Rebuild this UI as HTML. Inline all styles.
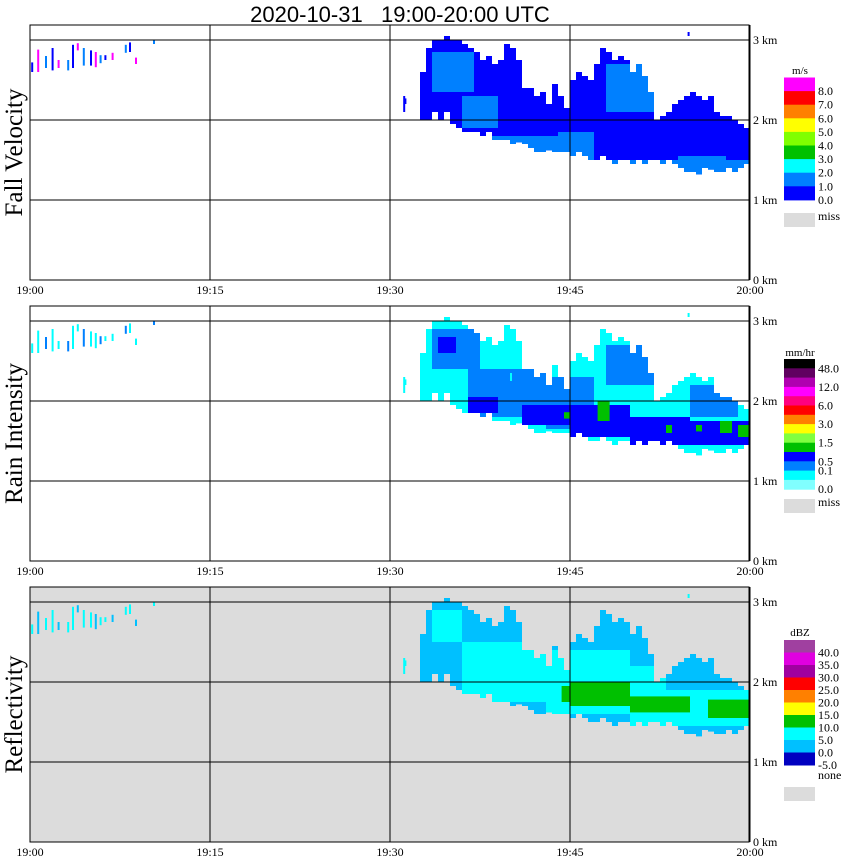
<!DOCTYPE html>
<html><head><meta charset="utf-8">
<style>
html,body{margin:0;padding:0;background:#fff;}
svg{display:block;}
text{font-family:"Liberation Serif",serif;fill:#000;}
</style></head>
<body>
<svg id="chart" width="850" height="868" viewBox="0 0 850 868" xmlns="http://www.w3.org/2000/svg">
<text x="400" y="22" font-size="22" text-anchor="middle" style="font-family:'Liberation Sans',sans-serif;white-space:pre" xml:space="preserve">2020-10-31   19:00-20:00 UTC</text>
</svg>
<script>
// ---- data ----
var binStartMin = 32;          // first echo bin: 19:32
var binMinutes = 0.5;          // 30 s bins
var echoTopKm  = [0,2.6,2.9,3.0,3.0,3.05,3.0,3.0,2.95,2.9,2.85,2.75,2.8,2.7,2.75,2.95,2.9,2.75,2.4,2.4,2.3,2.35,2.2,2.45,2.3,2.15,2.5,2.6,2.55,2.5,2.7,2.9,2.85,2.75,2.8,2.75,2.6,2.7,2.55,2.35,2.0,2.05,2.1,2.2,2.25,2.3,2.35,2.3,2.25,2.3,2.1,2.05,2.05,2.0,1.95,1.9];
var echoBaseKm = [0,2.0,2.0,2.1,2.0,2.1,1.95,1.9,1.85,1.85,1.85,1.8,1.85,1.75,1.75,1.75,1.7,1.72,1.7,1.65,1.6,1.6,1.62,1.6,1.6,1.6,1.55,1.6,1.55,1.5,1.5,1.55,1.5,1.45,1.5,1.5,1.45,1.5,1.45,1.5,1.5,1.45,1.5,1.45,1.4,1.35,1.35,1.32,1.4,1.38,1.35,1.35,1.4,1.35,1.4,1.45];
var clutterMin = [0.1,0.6,1.25,1.8,2.3,3.1,3.5,3.9,4.4,5.0,5.4,5.8,6.2,6.8,7.9,8.25,8.75,10.25];
var clutterLo  = [2.6,2.6,2.65,2.62,2.65,2.62,2.65,2.87,2.68,2.68,2.66,2.71,2.75,2.75,2.84,2.85,2.7,2.95];
var clutterHi  = [2.72,2.88,2.8,2.9,2.75,2.75,2.94,2.96,2.9,2.87,2.85,2.81,2.81,2.84,2.94,2.97,2.78,3.0];
var strayMin = [31.1,31.2,40.0,54.8];
var strayLo  = [2.1,2.2,2.25,3.05];
var strayHi  = [2.3,2.27,2.35,3.1];

var fvPStart=[33.5,36,37,44,48,40,54];
var fvPEnd  =[37,39,44,47,52,60,58];
var fvPLo   =[2.35,1.9,1.6,1.5,2.1,1.3,1.35];
var fvPHi   =[2.85,2.3,1.8,1.85,2.7,1.5,1.55];
var fvPCol  =[1,1,1,1,1,1,1];

var riPStart=[33.5,34,36.5,36.5,43,41,45,50,55,48,55,44.5,47.3,53,57.5,59,55.5];
var riPEnd  =[37.5,35.5,43,39,47,45,50,55,60,52,59,45,48.3,53.5,58.5,60,56];
var riPLo   =[2.4,2.6,1.8,1.85,1.65,1.7,1.55,1.45,1.45,2.2,1.8,1.78,1.75,1.6,1.6,1.55,1.62];
var riPHi   =[2.9,2.8,2.4,2.05,2.3,1.95,1.95,1.8,1.75,2.7,2.2,1.86,2.0,1.7,1.75,1.7,1.7];
var riPCol  =[1,2,1,2,1,2,2,2,2,1,1,3,3,3,3,3,3];

var rfPStart=[33.5,36,43,50,53,44.3,45,50,56.5];
var rfPEnd  =[36,43,50,53,60,45,50,55,60];
var rfPLo   =[2.5,1.75,1.6,1.45,1.45,1.75,1.7,1.62,1.55];
var rfPHi   =[2.9,2.5,2.4,2.2,1.9,1.95,2.0,1.82,1.78];
var rfPCol  =[1,1,1,1,1,2,2,2,2];

var fvColors=['#0000ff','#0080ff'];
var riColors=['#00ffff','#0080ff','#0000ff','#00c000'];
var rfColors=['#00c0ff','#00ffff','#00c000'];

var kmTicks=[0,1,2,3];
var timeTicks=['19:00','19:15','19:30','19:45','20:00'];
var timeTickMin=[0,15,30,45,60];

var fvLegendColors=['#ff00ff','#ff0000','#ff8000','#ffff00','#80ff00','#00c000','#00ffff','#0080ff','#0000ff'];
var fvLegendLabels=['8.0','7.0','6.0','5.0','4.0','3.0','2.0','1.0','0.0'];
var riLegendColors=['#000000','#600060','#b000b0','#ff00ff','#ff0080','#ff0000','#ff8000','#ffff00','#80ff40','#00c000','#0000ff','#0080ff','#00ffff','#80ffff'];
var riLegendLabels=['48.0','12.0','6.0','3.0','1.5','0.5','0.1','0.0'];
var riLegendLabelIdx=[1,3,5,7,9,11,12,14];
var rfLegendColors=['#a040a0','#e000e0','#a000a0','#ff0000','#ff8000','#ffff00','#00c000','#00ffff','#00c0ff','#0000c0'];
var rfLegendLabels=['40.0','35.0','30.0','25.0','20.0','15.0','10.0','5.0','0.0','-5.0'];

// ---- drawing ----
var svg=document.getElementById('chart');
var NS='http://www.w3.org/2000/svg';
var panelZero=[280,561,842];
var plotLeft=30, plotRight=749, pxPerMin=12, pxPerKm=80, plotH=255;
function xOf(m){return plotLeft+pxPerMin*m;}
function yOf(p,km){return panelZero[p]-pxPerKm*km;}
function mk(tag,attrs,parent){var e=document.createElementNS(NS,tag);for(var k in attrs)e.setAttribute(k,attrs[k]);(parent||svg).appendChild(e);return e;}
function txt(s,x,y,size,anchor,parent){var t=mk('text',{x:x,y:y,'font-size':size,'text-anchor':anchor||'start'},parent);t.textContent=s;return t;}

var panelNames=['fall-velocity','rain-intensity','reflectivity'];
var panelTitles=['Fall Velocity','Rain Intensity','Reflectivity'];
var panelBg=['#ffffff','#ffffff','#dcdcdc'];
var panelColors=[fvColors,riColors,rfColors];
var patches=[[fvPStart,fvPEnd,fvPLo,fvPHi,fvPCol],[riPStart,riPEnd,riPLo,riPHi,riPCol],[rfPStart,rfPEnd,rfPLo,rfPHi,rfPCol]];
var clutterCols=[['#0000ff','#ff00ff','#0080ff'],['#00ffff','#00ffff','#0080ff'],['#00ffff','#00c0ff','#00ffff']];

for(var p=0;p<3;p++){
  var g=mk('g',{});
  
  
  var pTop=panelZero[p]-plotH;
  var bg=mk('rect',{x:plotLeft,y:pTop,width:plotRight-plotLeft,height:plotH,fill:panelBg[p]},g);
  
  
  var cols=panelColors[p];
  for(var i=0;i<echoTopKm.length;i++){
    if(echoTopKm[i]<=0)continue;
    var t0=binStartMin+i*binMinutes;
    var r=mk('rect',{x:xOf(t0),y:yOf(p,echoTopKm[i]),width:pxPerMin*binMinutes,height:pxPerKm*(echoTopKm[i]-echoBaseKm[i]),fill:cols[0]},g);
    
    
  }
  var P=patches[p];
  for(var k=0;k<P[0].length;k++){
    for(var i=0;i<echoTopKm.length;i++){
      var t0=binStartMin+i*binMinutes, t1=t0+binMinutes;
      if(echoTopKm[i]<=0)continue;
      var a=Math.max(t0,P[0][k]), b=Math.min(t1,P[1][k]);
      if(b<=a)continue;
      var lo=Math.max(P[2][k],echoBaseKm[i]), hi=Math.min(P[3][k],echoTopKm[i]);
      if(hi<=lo)continue;
      var r=mk('rect',{x:xOf(a),y:yOf(p,hi),width:xOf(b)-xOf(a),height:pxPerKm*(hi-lo),fill:cols[P[4][k]]},g);
      
      
    }
  }
  for(var i=0;i<clutterMin.length;i++){
    var r=mk('rect',{x:xOf(clutterMin[i]),y:yOf(p,clutterHi[i]),width:2,height:pxPerKm*(clutterHi[i]-clutterLo[i]),fill:clutterCols[p][i%3]},g);
    
    
  }
  for(var i=0;i<strayMin.length;i++){
    var r=mk('rect',{x:xOf(strayMin[i]),y:yOf(p,strayHi[i]),width:2,height:pxPerKm*(strayHi[i]-strayLo[i]),fill:cols[p==2?1:0]},g);
    
    
  }
  for(var k=0;k<kmTicks.length;k++){
    var y=yOf(p,kmTicks[k]);
    var l=mk('line',{x1:plotLeft,x2:plotRight,y1:y,y2:y,stroke:'#000','stroke-width':1},g);
    
    
    var t=txt(kmTicks[k]+' km',753,y+4,12,'start',g);
    
    
  }
  for(var k=0;k<timeTickMin.length;k++){
    var x=xOf(timeTickMin[k]);
    var l=mk('line',{x1:x,x2:x,y1:pTop,y2:panelZero[p],stroke:'#000','stroke-width':1},g);
    
    
    var t=txt(timeTicks[k],x,panelZero[p]+14,12,'middle',g);
    
    
  }
  var bx=mk('rect',{x:plotLeft,y:pTop,width:plotRight-plotLeft,height:plotH,fill:'none',stroke:'#000','stroke-width':1},g);
  
  
  var cy=pTop+plotH/2;
  var yt=txt(panelTitles[p],22,cy,25,'middle',g);
  yt.setAttribute('transform','rotate(-90 22 '+cy+')');
  
  
}

function legend(name,unit,unitY,colors,y0,bandH,labels,labelIdx,missLabel,missY,missTextY){
  var g=mk('g',{});
  
  
  var u=txt(unit,800,unitY,11,'middle',g);
  
  
  for(var i=0;i<colors.length;i++){
    var r=mk('rect',{x:784,y:y0+i*bandH,width:31,height:bandH+0.5,fill:colors[i]},g);
    
    
  }
  for(var i=0;i<labels.length;i++){
    var idx=labelIdx?labelIdx[i]:i+1;
    var t=txt(labels[i],818,y0+idx*bandH+4,12,'start',g);
    
    
  }
  var m=mk('rect',{x:784,y:missY,width:31,height:14,fill:'#dcdcdc'},g);
  
  
  var mt=txt(missLabel,818,missTextY,12,'start',g);
  
  
}
legend('fall-velocity-legend','m/s',74,fvLegendColors,77.5,13.6,fvLegendLabels,null,'miss',213,220);
legend('rain-intensity-legend','mm/hr',356,riLegendColors,359,9.3,riLegendLabels,riLegendLabelIdx,'miss',499,506);
legend('reflectivity-legend','dBZ',636,rfLegendColors,640,12.5,rfLegendLabels,null,'none',787,779);
</script>
</body></html>
